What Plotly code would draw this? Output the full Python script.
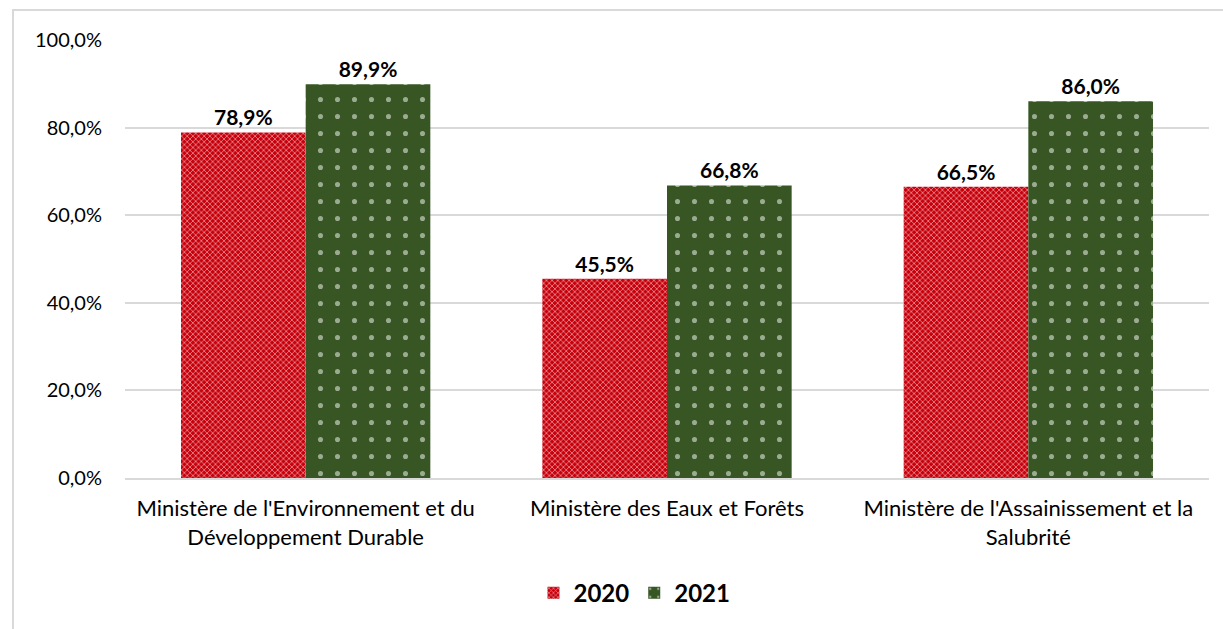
import plotly.graph_objects as go

categories = [
    "Ministère de l'Environnement et du<br>Développement Durable",
    "Ministère des Eaux et Forêts",
    "Ministère de l'Assainissement et la<br>Salubrité",
]
values_2020 = [78.9, 45.5, 66.5]
values_2021 = [89.9, 66.8, 86.0]
y_ticks = [0, 20, 40, 60, 80, 100]
y_tick_text = [f"{v:.1f}%".replace(".", ",") for v in y_ticks]

FONT = "Lato"

fig = go.Figure()
fig.add_trace(go.Bar(
    name="2020", x=categories, y=values_2020,
    marker=dict(color="#c8000c", line=dict(width=0),
                pattern=dict(shape="x", fgcolor="white", size=4, solidity=0.4)),
    texttemplate="%{y:.1f}%", textposition="outside",
    textfont=dict(family=FONT, size=21, color="black", weight="bold"),
    cliponaxis=False,
))
fig.add_trace(go.Bar(
    name="2021", x=categories, y=values_2021,
    marker=dict(color="#375623", line=dict(width=0),
                pattern=dict(shape=".", fgcolor="white", size=17, solidity=0.07)),
    texttemplate="%{y:.1f}%", textposition="outside",
    textfont=dict(family=FONT, size=21, color="black", weight="bold"),
    cliponaxis=False,
))

# outer chart frame
fig.add_shape(type="rect", xref="paper", yref="paper",
              x0=-0.1033, x1=1.02, y0=-0.4, y1=1.0685,
              line=dict(color="#d9d9d9", width=2), layer="below")

fig.update_layout(
    width=1223, height=629,
    margin=dict(l=125, r=14, t=40, b=151),
    paper_bgcolor="white", plot_bgcolor="white",
    separators=",.",
    barmode="group", bargap=0.31, bargroupgap=0,
    font=dict(family=FONT, size=20, color="black"),
    showlegend=True,
    legend=dict(orientation="h", x=0.47, xanchor="center", y=-0.263, yanchor="middle",
                font=dict(family=FONT, size=24, color="black", weight="bold"),
                itemwidth=30),
    xaxis=dict(showline=True, linecolor="#d9d9d9", linewidth=2, ticks="",
               tickfont=dict(size=22), ticklabelstandoff=10),
    yaxis=dict(range=[0, 100], tickvals=y_ticks, ticktext=y_tick_text,
               showgrid=True, gridcolor="#d9d9d9", gridwidth=2, zeroline=False,
               ticks="", ticklabelstandoff=22, tickfont=dict(size=20)),
)

fig.write_html("out.html", config={"displayModeBar": False},
               post_script="document.body.style.margin='0';document.body.style.overflow='hidden';")
